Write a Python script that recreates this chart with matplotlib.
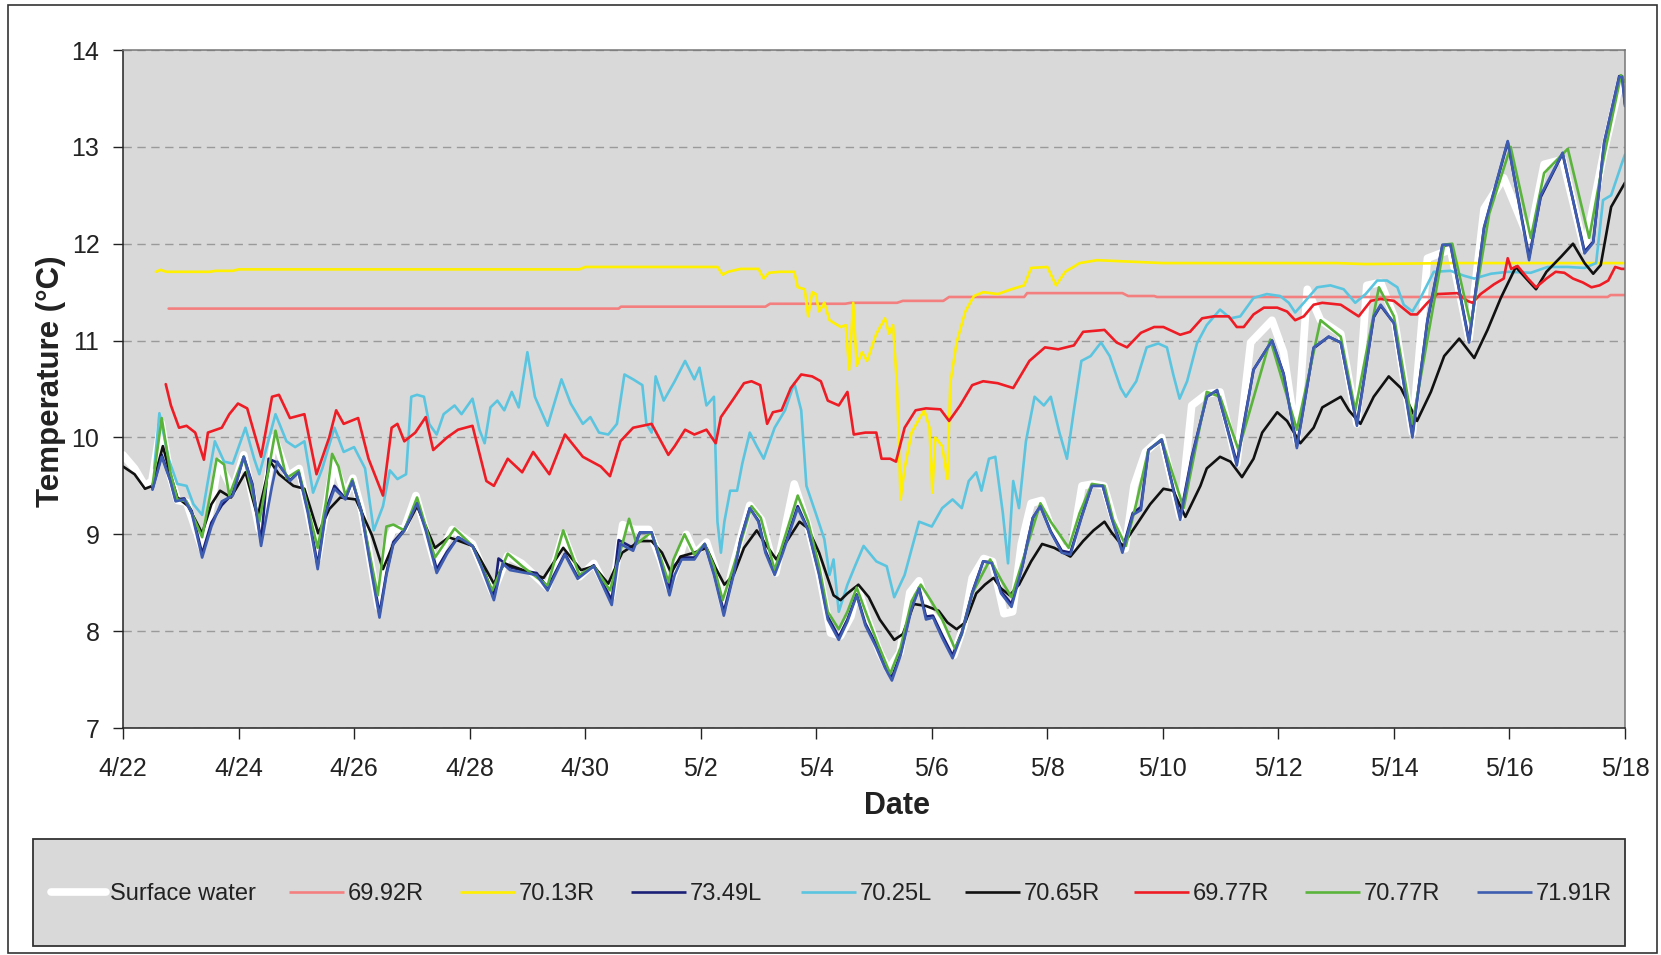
import matplotlib
matplotlib.use("Agg")
import matplotlib.pyplot as plt
from matplotlib.patches import Rectangle
from matplotlib.lines import Line2D

# =========================
# data: (day since 4/22, temperature degC)
# =========================
xtick_days = list(range(0, 27, 2))
xtick_labels = ["4/22", "4/24", "4/26", "4/28", "4/30", "5/2", "5/4", "5/6",
                "5/8", "5/10", "5/12", "5/14", "5/16", "5/18"]
ytick_vals = [7, 8, 9, 10, 11, 12, 13, 14]

series_labels = ["Surface water", "69.92R", "70.13R", "73.49L", "70.25L",
                 "70.65R", "69.77R", "70.77R", "71.91R"]
series_colors = ["#ffffff", "#f47f7f", "#ffef00", "#1b2077", "#5bc5e0",
                 "#111111", "#ee1c24", "#5ab43c", "#3e5db0"]

surface_water = [
    (0, 9.82), (0.1, 9.75), (0.2, 9.68), (0.38, 9.5), (0.5, 9.55), (0.66, 10.15), (0.82, 9.6),
    (0.94, 9.35), (1.1, 9.33), (1.37, 8.85), (1.53, 9.3), (1.65, 9.75), (1.9, 9.45), (2.09, 9.82),
    (2.36, 9.05), (2.62, 10.0), (2.85, 9.6), (3.05, 9.68), (3.37, 8.75), (3.55, 9.4), (3.65, 9.75),
    (3.85, 9.4), (3.98, 9.58), (4.13, 9.25), (4.42, 8.25), (4.56, 8.9), (4.68, 9.05), (4.87, 9.06),
    (5.07, 9.4), (5.4, 8.7), (5.7, 9.05), (6.05, 8.9), (6.4, 8.4), (6.66, 8.78), (6.9, 8.7),
    (7.35, 8.45), (7.62, 9.0), (7.9, 8.56), (8.15, 8.7), (8.45, 8.35), (8.65, 9.1), (8.85, 9.05),
    (9.1, 9.05), (9.3, 8.75), (9.45, 8.45), (9.6, 8.7), (9.75, 9.0), (9.9, 8.8), (10.1, 8.92),
    (10.25, 8.65), (10.4, 8.25), (10.57, 8.7), (10.85, 9.3), (11.05, 9.15), (11.3, 8.6),
    (11.62, 9.52), (11.85, 9.1), (12.05, 8.6), (12.25, 7.98), (12.42, 7.95), (12.6, 8.15),
    (12.72, 8.45), (12.9, 8.1), (13.1, 7.78), (13.25, 7.6), (13.45, 7.78), (13.62, 8.4),
    (13.78, 8.52), (13.95, 8.2), (14.18, 8.05), (14.38, 7.75), (14.55, 8.05), (14.7, 8.55),
    (14.9, 8.75), (15.05, 8.72), (15.25, 8.18), (15.4, 8.2), (15.55, 8.9), (15.72, 9.32),
    (15.9, 9.35), (16.08, 9.05), (16.25, 8.85), (16.42, 8.85), (16.6, 9.5), (16.8, 9.52),
    (16.98, 9.5), (17.15, 9.15), (17.35, 8.85), (17.5, 9.5), (17.7, 9.85), (17.98, 10.0),
    (18.3, 9.18), (18.5, 10.33), (18.76, 10.45), (18.99, 10.47), (19.28, 9.73), (19.52, 10.98),
    (19.89, 11.21), (20.09, 10.88), (20.32, 9.96), (20.5, 11.53), (20.73, 11.21), (21.08, 11.07),
    (21.36, 10.14), (21.53, 11.57), (21.77, 11.6), (22.0, 11.25), (22.32, 10.05), (22.58, 11.85),
    (22.98, 11.94), (23.3, 11.02), (23.56, 12.36), (23.9, 12.68), (24.34, 12.04), (24.6, 12.82),
    (24.92, 12.87), (25.3, 11.94), (25.64, 12.96), (25.93, 13.70), (26.0, 13.56),
]

s6992R = [
    (0.79, 11.33), (8.58, 11.33), (8.62, 11.35), (11.12, 11.35), (11.2, 11.38), (12.5, 11.38),
    (12.6, 11.39), (13.4, 11.39), (13.5, 11.41), (14.2, 11.41), (14.3, 11.45), (15.6, 11.45),
    (15.65, 11.49), (17.3, 11.49), (17.4, 11.46), (17.85, 11.46), (17.9, 11.45), (25.7, 11.45),
    (25.75, 11.47), (26.0, 11.47),
]

s7013R = [
    (0.57, 11.71), (0.65, 11.73), (0.75, 11.71), (1.5, 11.71), (1.6, 11.72), (1.9, 11.72),
    (2.0, 11.735), (7.9, 11.735), (8.0, 11.76), (10.29, 11.76), (10.38, 11.68), (10.47, 11.71),
    (10.69, 11.74), (11.0, 11.74), (11.09, 11.64), (11.18, 11.70), (11.37, 11.71), (11.62, 11.71),
    (11.68, 11.55), (11.80, 11.53), (11.86, 11.25), (11.93, 11.50), (11.99, 11.48), (12.05, 11.30),
    (12.14, 11.39), (12.23, 11.21), (12.42, 11.14), (12.51, 11.16), (12.57, 10.70), (12.64, 11.39),
    (12.70, 10.74), (12.79, 10.88), (12.88, 10.79), (13.04, 11.07), (13.19, 11.23), (13.26, 11.07),
    (13.33, 11.16), (13.40, 10.51), (13.46, 9.36), (13.53, 9.68), (13.65, 10.05), (13.78, 10.19),
    (13.87, 10.28), (13.96, 10.10), (14.01, 9.43), (14.06, 10.00), (14.18, 9.91), (14.27, 9.57),
    (14.32, 10.56), (14.43, 10.98), (14.58, 11.30), (14.73, 11.46), (14.89, 11.50), (15.14, 11.48),
    (15.38, 11.53), (15.60, 11.57), (15.72, 11.75), (16.00, 11.76), (16.15, 11.57), (16.31, 11.71),
    (16.56, 11.80), (16.86, 11.83), (18.0, 11.80), (21.0, 11.80), (21.5, 11.79), (23.0, 11.80),
    (26.0, 11.80),
]

s7349L = [
    (0.51, 9.47), (0.67, 9.82), (0.82, 9.56), (0.91, 9.36), (1.06, 9.37), (1.19, 9.24), (1.37, 8.80),
    (1.53, 9.12), (1.71, 9.30), (1.90, 9.42), (2.09, 9.80), (2.24, 9.52), (2.39, 8.92), (2.52, 9.78),
    (2.67, 9.74), (2.89, 9.56), (3.04, 9.64), (3.20, 9.25), (3.37, 8.68), (3.51, 9.25), (3.66, 9.50),
    (3.85, 9.37), (3.97, 9.55), (4.13, 9.24), (4.31, 8.62), (4.44, 8.18), (4.56, 8.60), (4.68, 8.92),
    (4.87, 9.05), (5.09, 9.32), (5.24, 9.06), (5.43, 8.64), (5.61, 8.82), (5.80, 8.97), (6.05, 8.88),
    (6.20, 8.70), (6.42, 8.36), (6.50, 8.75), (6.70, 8.66), (6.97, 8.62), (7.16, 8.60), (7.35, 8.45),
    (7.65, 8.80), (7.87, 8.56), (8.15, 8.68), (8.46, 8.32), (8.58, 8.94), (8.83, 8.86), (8.95, 9.02),
    (9.15, 9.02), (9.30, 8.74), (9.46, 8.42), (9.52, 8.66), (9.67, 8.76), (9.89, 8.76), (10.07, 8.90),
    (10.23, 8.60), (10.40, 8.20), (10.57, 8.60), (10.69, 8.95), (10.85, 9.27), (11.00, 9.14),
    (11.12, 8.83), (11.28, 8.61), (11.40, 8.79), (11.68, 9.29), (11.86, 9.05), (12.05, 8.60),
    (12.20, 8.15), (12.39, 7.94), (12.54, 8.12), (12.70, 8.38), (12.85, 8.08), (13.04, 7.86),
    (13.19, 7.65), (13.31, 7.52), (13.46, 7.77), (13.65, 8.25), (13.78, 8.45), (13.90, 8.15),
    (14.02, 8.16), (14.18, 7.96), (14.36, 7.75), (14.52, 7.99), (14.70, 8.40), (14.89, 8.72),
    (15.04, 8.71), (15.20, 8.41), (15.38, 8.28), (15.57, 8.68), (15.75, 9.17), (15.88, 9.29),
    (16.06, 9.03), (16.25, 8.83), (16.40, 8.81), (16.59, 9.18), (16.77, 9.50), (16.96, 9.50),
    (17.11, 9.18), (17.30, 8.84), (17.48, 9.22), (17.62, 9.28), (17.75, 9.87), (17.98, 9.97),
    (18.30, 9.18), (18.50, 9.80), (18.76, 10.42), (18.94, 10.48), (19.17, 9.98), (19.28, 9.74),
    (19.57, 10.70), (19.89, 11.00), (20.09, 10.66), (20.32, 9.91), (20.61, 10.92), (20.87, 11.04),
    (21.08, 10.98), (21.36, 10.14), (21.65, 11.24), (21.77, 11.36), (22.00, 11.18), (22.32, 10.03),
    (22.58, 11.20), (22.84, 11.98), (22.98, 11.99), (23.30, 11.00), (23.56, 12.16), (23.97, 13.05),
    (24.34, 11.86), (24.54, 12.48), (24.92, 12.93), (25.30, 11.92), (25.45, 12.02), (25.64, 13.04),
    (25.90, 13.73), (25.95, 13.73), (26.0, 13.44),
]

s7025L = [
    (0.54, 9.68), (0.63, 10.25), (0.79, 9.78), (0.94, 9.52), (1.10, 9.50), (1.22, 9.31), (1.37, 9.20),
    (1.47, 9.55), (1.59, 9.96), (1.75, 9.75), (1.90, 9.73), (2.12, 10.10), (2.27, 9.78), (2.36, 9.62),
    (2.64, 10.24), (2.83, 9.96), (2.98, 9.90), (3.14, 9.96), (3.29, 9.43), (3.45, 9.68), (3.66, 10.10),
    (3.82, 9.85), (4.00, 9.90), (4.19, 9.68), (4.34, 9.04), (4.50, 9.29), (4.62, 9.66), (4.75, 9.57),
    (4.90, 9.62), (4.99, 10.42), (5.09, 10.44), (5.21, 10.42), (5.30, 10.14), (5.43, 10.03),
    (5.55, 10.24), (5.74, 10.33), (5.86, 10.24), (6.05, 10.40), (6.17, 10.08), (6.26, 9.94),
    (6.36, 10.31), (6.48, 10.38), (6.60, 10.28), (6.73, 10.47), (6.85, 10.31), (7.00, 10.88),
    (7.13, 10.42), (7.35, 10.12), (7.59, 10.60), (7.75, 10.35), (7.96, 10.14), (8.09, 10.21),
    (8.24, 10.05), (8.40, 10.03), (8.55, 10.14), (8.68, 10.65), (8.83, 10.60), (8.99, 10.54),
    (9.06, 10.14), (9.15, 10.05), (9.22, 10.63), (9.36, 10.38), (9.55, 10.58), (9.73, 10.79),
    (9.89, 10.60), (9.98, 10.72), (10.10, 10.33), (10.23, 10.42), (10.29, 9.13), (10.35, 8.81),
    (10.41, 9.13), (10.51, 9.45), (10.63, 9.45), (10.72, 9.73), (10.85, 10.05), (10.97, 9.91),
    (11.09, 9.78), (11.28, 10.10), (11.46, 10.28), (11.62, 10.56), (11.74, 10.28), (11.83, 9.50),
    (11.99, 9.22), (12.14, 8.95), (12.23, 8.58), (12.30, 8.74), (12.39, 8.20), (12.54, 8.48),
    (12.67, 8.67), (12.82, 8.88), (13.04, 8.72), (13.22, 8.67), (13.35, 8.35), (13.53, 8.58),
    (13.78, 9.13), (14.00, 9.08), (14.18, 9.27), (14.36, 9.36), (14.52, 9.27), (14.64, 9.55),
    (14.77, 9.64), (14.86, 9.45), (14.99, 9.78), (15.10, 9.80), (15.23, 9.22), (15.32, 8.70),
    (15.41, 9.55), (15.51, 9.27), (15.63, 9.96), (15.78, 10.42), (15.94, 10.33), (16.06, 10.42),
    (16.21, 10.05), (16.34, 9.78), (16.46, 10.28), (16.59, 10.79), (16.75, 10.84), (16.93, 10.98),
    (17.08, 10.84), (17.27, 10.51), (17.36, 10.42), (17.54, 10.58), (17.72, 10.93), (17.92, 10.97),
    (18.07, 10.93), (18.18, 10.65), (18.29, 10.40), (18.42, 10.58), (18.59, 10.97), (18.76, 11.16),
    (18.99, 11.32), (19.17, 11.23), (19.34, 11.25), (19.57, 11.44), (19.80, 11.48), (20.03, 11.46),
    (20.18, 11.39), (20.29, 11.29), (20.44, 11.39), (20.67, 11.55), (20.90, 11.57), (21.13, 11.53),
    (21.33, 11.39), (21.51, 11.48), (21.71, 11.62), (21.88, 11.62), (22.06, 11.55), (22.17, 11.37),
    (22.32, 11.30), (22.46, 11.44), (22.69, 11.71), (22.98, 11.72), (23.21, 11.67), (23.39, 11.64),
    (23.68, 11.69), (23.97, 11.71), (24.37, 11.70), (24.66, 11.76), (25.01, 11.76), (25.30, 11.75),
    (25.50, 11.80), (25.62, 12.45), (25.76, 12.50), (25.94, 12.82), (26.0, 12.92),
]

s7065R = [
    (0, 9.70), (0.20, 9.62), (0.38, 9.47), (0.51, 9.50), (0.69, 9.91), (0.82, 9.62), (0.94, 9.38),
    (1.13, 9.29), (1.37, 9.01), (1.53, 9.31), (1.68, 9.45), (1.87, 9.38), (2.12, 9.64), (2.33, 9.18),
    (2.55, 9.75), (2.70, 9.62), (2.95, 9.50), (3.14, 9.47), (3.38, 9.01), (3.57, 9.26), (3.76, 9.38),
    (4.03, 9.36), (4.31, 8.99), (4.50, 8.64), (4.68, 8.90), (4.87, 9.04), (5.09, 9.29), (5.40, 8.86),
    (5.64, 8.97), (6.05, 8.88), (6.17, 8.76), (6.42, 8.49), (6.60, 8.70), (6.88, 8.64), (7.28, 8.55),
    (7.62, 8.86), (7.93, 8.63), (8.15, 8.67), (8.40, 8.49), (8.64, 8.81), (8.95, 8.93), (9.15, 8.93),
    (9.33, 8.81), (9.49, 8.60), (9.65, 8.77), (9.89, 8.81), (10.10, 8.86), (10.26, 8.65),
    (10.41, 8.48), (10.57, 8.58), (10.75, 8.86), (10.97, 9.04), (11.12, 8.90), (11.31, 8.74),
    (11.46, 8.90), (11.71, 9.13), (11.86, 9.06), (12.05, 8.81), (12.30, 8.37), (12.42, 8.32),
    (12.54, 8.39), (12.73, 8.48), (12.91, 8.35), (13.10, 8.12), (13.35, 7.91), (13.50, 7.97),
    (13.69, 8.28), (13.90, 8.26), (14.12, 8.21), (14.27, 8.09), (14.43, 8.02), (14.58, 8.09),
    (14.77, 8.39), (14.92, 8.48), (15.07, 8.55), (15.20, 8.44), (15.35, 8.37), (15.51, 8.48),
    (15.72, 8.72), (15.91, 8.90), (16.12, 8.86), (16.40, 8.77), (16.62, 8.93), (16.80, 9.04),
    (16.99, 9.13), (17.11, 9.02), (17.30, 8.88), (17.50, 9.06), (17.78, 9.31), (18.01, 9.47),
    (18.18, 9.45), (18.39, 9.18), (18.65, 9.50), (18.76, 9.68), (18.99, 9.80), (19.17, 9.75),
    (19.37, 9.59), (19.57, 9.78), (19.72, 10.05), (19.98, 10.26), (20.15, 10.17), (20.38, 9.94),
    (20.61, 10.10), (20.76, 10.31), (21.08, 10.42), (21.22, 10.28), (21.42, 10.14), (21.65, 10.42),
    (21.91, 10.63), (22.12, 10.51), (22.40, 10.17), (22.64, 10.47), (22.87, 10.84), (23.13, 11.02),
    (23.39, 10.82), (23.62, 11.11), (23.85, 11.44), (24.11, 11.76), (24.29, 11.64), (24.46, 11.53),
    (24.64, 11.71), (24.90, 11.87), (25.10, 12.00), (25.30, 11.80), (25.45, 11.69), (25.58, 11.78),
    (25.76, 12.38), (26.0, 12.63),
]

s6977R = [
    (0.74, 10.55), (0.83, 10.33), (0.97, 10.10), (1.10, 10.12), (1.25, 10.05), (1.40, 9.77),
    (1.47, 10.05), (1.71, 10.10), (1.84, 10.24), (1.99, 10.35), (2.15, 10.30), (2.39, 9.80),
    (2.58, 10.42), (2.70, 10.44), (2.89, 10.20), (3.14, 10.24), (3.35, 9.62), (3.57, 10.00),
    (3.69, 10.28), (3.82, 10.14), (4.07, 10.20), (4.25, 9.78), (4.50, 9.40), (4.65, 10.10),
    (4.75, 10.14), (4.87, 9.96), (5.06, 10.05), (5.24, 10.21), (5.37, 9.87), (5.61, 10.00),
    (5.80, 10.08), (6.05, 10.12), (6.29, 9.55), (6.42, 9.50), (6.66, 9.78), (6.91, 9.64),
    (7.10, 9.85), (7.38, 9.62), (7.65, 10.03), (7.96, 9.80), (8.27, 9.70), (8.43, 9.60),
    (8.61, 9.96), (8.83, 10.10), (9.15, 10.14), (9.33, 9.94), (9.44, 9.82), (9.55, 9.91),
    (9.73, 10.08), (9.89, 10.03), (10.10, 10.08), (10.26, 9.94), (10.35, 10.21), (10.57, 10.40),
    (10.75, 10.56), (10.88, 10.58), (11.03, 10.54), (11.15, 10.14), (11.25, 10.26), (11.40, 10.28),
    (11.56, 10.51), (11.74, 10.65), (11.93, 10.63), (12.08, 10.58), (12.20, 10.38), (12.39, 10.33),
    (12.54, 10.47), (12.65, 10.03), (12.85, 10.05), (13.04, 10.05), (13.13, 9.78), (13.28, 9.78),
    (13.38, 9.75), (13.53, 10.10), (13.72, 10.28), (13.90, 10.30), (14.15, 10.29), (14.30, 10.17),
    (14.49, 10.33), (14.70, 10.54), (14.89, 10.58), (15.14, 10.56), (15.41, 10.51), (15.69, 10.79),
    (15.96, 10.93), (16.19, 10.91), (16.46, 10.95), (16.62, 11.09), (16.99, 11.11), (17.20, 10.98),
    (17.38, 10.93), (17.62, 11.08), (17.85, 11.14), (18.01, 11.14), (18.30, 11.06), (18.47, 11.09),
    (18.68, 11.23), (18.88, 11.25), (19.14, 11.25), (19.28, 11.14), (19.40, 11.14), (19.57, 11.27),
    (19.75, 11.34), (19.98, 11.34), (20.15, 11.30), (20.29, 11.21), (20.44, 11.25), (20.61, 11.37),
    (20.76, 11.39), (21.08, 11.37), (21.39, 11.25), (21.60, 11.41), (21.77, 11.43), (22.00, 11.41),
    (22.29, 11.27), (22.40, 11.27), (22.58, 11.39), (22.75, 11.48), (23.10, 11.49), (23.27, 11.41),
    (23.36, 11.39), (23.50, 11.48), (23.73, 11.58), (23.90, 11.64), (23.97, 11.85), (24.03, 11.74),
    (24.14, 11.77), (24.32, 11.64), (24.46, 11.55), (24.64, 11.64), (24.80, 11.71), (24.95, 11.70),
    (25.10, 11.64), (25.27, 11.60), (25.42, 11.55), (25.56, 11.57), (25.71, 11.62), (25.83, 11.76),
    (25.94, 11.74), (26.0, 11.74),
]

s7077R = [
    (0.51, 9.50), (0.67, 10.20), (0.82, 9.64), (0.94, 9.36), (1.10, 9.34), (1.37, 8.97), (1.53, 9.47),
    (1.62, 9.78), (1.75, 9.72), (1.84, 9.40), (2.09, 9.80), (2.36, 9.13), (2.64, 10.07), (2.83, 9.58),
    (3.04, 9.66), (3.37, 8.86), (3.51, 9.32), (3.62, 9.83), (3.73, 9.70), (3.85, 9.40), (3.97, 9.57),
    (4.13, 9.22), (4.41, 8.37), (4.56, 9.08), (4.68, 9.10), (4.87, 9.04), (5.09, 9.38), (5.40, 8.76),
    (5.74, 9.06), (6.05, 8.88), (6.39, 8.42), (6.66, 8.80), (6.91, 8.67), (7.35, 8.47), (7.62, 9.04),
    (7.90, 8.58), (8.15, 8.67), (8.43, 8.42), (8.76, 9.16), (8.89, 8.90), (9.14, 9.02), (9.30, 8.77),
    (9.44, 8.51), (9.53, 8.74), (9.72, 9.00), (9.89, 8.79), (10.07, 8.90), (10.23, 8.67),
    (10.38, 8.32), (10.57, 8.67), (10.88, 9.29), (11.04, 9.17), (11.28, 8.63), (11.68, 9.40),
    (11.86, 9.13), (12.05, 8.67), (12.20, 8.20), (12.39, 8.02), (12.54, 8.20), (12.70, 8.45),
    (12.88, 8.16), (13.06, 7.88), (13.28, 7.56), (13.46, 7.83), (13.65, 8.31), (13.81, 8.48),
    (13.99, 8.31), (14.18, 8.12), (14.40, 7.82), (14.52, 7.97), (14.70, 8.39), (15.01, 8.74),
    (15.20, 8.53), (15.38, 8.35), (15.57, 8.72), (15.88, 9.32), (16.06, 9.13), (16.37, 8.86),
    (16.56, 9.22), (16.77, 9.52), (16.99, 9.50), (17.14, 9.15), (17.36, 8.88), (17.54, 9.32),
    (17.75, 9.87), (17.98, 9.98), (18.36, 9.27), (18.76, 10.47), (18.99, 10.42), (19.31, 9.87),
    (19.86, 11.01), (20.32, 10.08), (20.73, 11.21), (21.08, 11.04), (21.33, 10.28), (21.74, 11.55),
    (22.00, 11.25), (22.32, 10.14), (22.87, 11.99), (23.01, 12.00), (23.33, 11.16), (23.65, 12.31),
    (24.02, 13.00), (24.37, 12.06), (24.60, 12.73), (25.01, 12.98), (25.38, 12.06), (25.64, 12.91),
    (25.93, 13.74), (26.0, 13.67),
]

s7191R = [
    (0.51, 9.46), (0.67, 9.80), (0.82, 9.55), (0.91, 9.34), (1.06, 9.36), (1.19, 9.22), (1.37, 8.76),
    (1.53, 9.08), (1.71, 9.34), (1.90, 9.40), (2.09, 9.80), (2.24, 9.50), (2.39, 8.88), (2.58, 9.50),
    (2.67, 9.75), (2.89, 9.55), (3.04, 9.64), (3.20, 9.22), (3.37, 8.64), (3.51, 9.22), (3.66, 9.47),
    (3.85, 9.36), (3.97, 9.55), (4.13, 9.22), (4.31, 8.58), (4.44, 8.14), (4.56, 8.58), (4.68, 8.90),
    (4.87, 9.04), (5.09, 9.32), (5.24, 9.04), (5.43, 8.60), (5.61, 8.80), (5.80, 8.97), (6.05, 8.88),
    (6.20, 8.67), (6.42, 8.32), (6.57, 8.70), (6.70, 8.63), (6.97, 8.60), (7.16, 8.58), (7.35, 8.42),
    (7.65, 8.79), (7.87, 8.54), (8.15, 8.67), (8.46, 8.27), (8.61, 8.90), (8.83, 8.83), (8.95, 9.02),
    (9.15, 9.02), (9.30, 8.72), (9.46, 8.37), (9.55, 8.58), (9.67, 8.74), (9.89, 8.74), (10.07, 8.90),
    (10.23, 8.58), (10.40, 8.16), (10.57, 8.58), (10.69, 8.94), (10.85, 9.27), (11.00, 9.13),
    (11.12, 8.81), (11.28, 8.58), (11.40, 8.77), (11.68, 9.27), (11.86, 9.04), (12.05, 8.58),
    (12.20, 8.12), (12.39, 7.91), (12.54, 8.10), (12.70, 8.37), (12.85, 8.06), (13.04, 7.83),
    (13.19, 7.62), (13.31, 7.49), (13.46, 7.75), (13.65, 8.23), (13.78, 8.44), (13.90, 8.12),
    (14.02, 8.14), (14.18, 7.93), (14.36, 7.72), (14.52, 7.97), (14.70, 8.39), (14.89, 8.72),
    (15.04, 8.70), (15.20, 8.39), (15.38, 8.25), (15.57, 8.67), (15.75, 9.17), (15.88, 9.29),
    (16.06, 9.02), (16.25, 8.81), (16.40, 8.79), (16.59, 9.17), (16.77, 9.50), (16.96, 9.50),
    (17.11, 9.17), (17.30, 8.81), (17.48, 9.20), (17.62, 9.25), (17.75, 9.87), (17.98, 9.98),
    (18.30, 9.15), (18.50, 9.78), (18.76, 10.42), (18.94, 10.49), (19.17, 9.96), (19.28, 9.71),
    (19.57, 10.70), (19.89, 11.00), (20.09, 10.65), (20.32, 9.89), (20.61, 10.93), (20.87, 11.04),
    (21.08, 10.98), (21.36, 10.12), (21.65, 11.25), (21.77, 11.37), (22.00, 11.18), (22.32, 10.00),
    (22.58, 11.21), (22.84, 11.99), (22.98, 11.99), (23.30, 10.98), (23.56, 12.17), (23.97, 13.06),
    (24.34, 11.83), (24.54, 12.50), (24.92, 12.94), (25.30, 11.90), (25.45, 12.01), (25.64, 13.05),
    (25.90, 13.72), (25.95, 13.72), (26.0, 13.42),
]

all_series = [surface_water, s6992R, s7013R, s7349L, s7025L, s7065R, s6977R, s7077R, s7191R]

# =========================
# figure
# =========================
W, H = 1661, 955
fig = plt.figure(figsize=(W / 100, H / 100), dpi=100)
fig.patch.set_facecolor("white")
font = ["Liberation Sans", "DejaVu Sans"]
txt_col = "#222222"

# outer border
fig.add_artist(Rectangle((8 / W, 2 / H), (1657 - 8) / W, (950 - 2) / H,
                         transform=fig.transFigure, fill=False,
                         edgecolor="#333333", linewidth=1.2))

ax = fig.add_axes([123 / W, 1 - 728 / H, (1625 - 123) / W, (728 - 50) / H])
ax.set_facecolor("#d9d9d9")

widths = []
for data, lab, col in zip(all_series, series_labels, series_colors):
    xs = [p[0] for p in data]
    ys = [p[1] for p in data]
    lw = 5.5 if lab == "Surface water" else 1.9
    widths.append(lw)
    ax.plot(xs, ys, color=col, lw=lw, solid_joinstyle="round", solid_capstyle="round")

ax.set_xlim(0, 26)
ax.set_ylim(7, 14)
ax.set_xticks(xtick_days)
ax.set_xticklabels(xtick_labels, family=font, fontsize=18)
ax.set_yticks(ytick_vals)
ax.set_yticklabels([str(v) for v in ytick_vals], family=font, fontsize=18)

ax.yaxis.grid(True, linestyle=(0, (6, 4)), color="#9a9a9a", linewidth=1)
ax.set_axisbelow(True)

ax.tick_params(axis="x", direction="out", length=8, width=1, pad=13, colors=txt_col)
ax.tick_params(axis="y", direction="out", length=7, width=1, pad=10, colors=txt_col)
for side in ["left", "bottom"]:
    ax.spines[side].set_color(txt_col)
    ax.spines[side].set_linewidth(1.1)
for side in ["right", "top"]:
    ax.spines[side].set_color("#777777")
    ax.spines[side].set_linewidth(1.1)

fig.text(51 / W, 1 - 381 / H, "Temperature (°C)", rotation=90, ha="center", va="center",
         family=font, fontweight="bold", fontsize=22.5, color=txt_col)
fig.text(897 / W, 1 - 806 / H, "Date", ha="center", va="center",
         family=font, fontweight="bold", fontsize=22, color=txt_col)

# legend box with one row of entries
bx0, by0, bw, bh = 33 / W, 1 - 946 / H, (1625 - 33) / W, (946 - 839) / H
fig.add_artist(Rectangle((bx0, by0), bw, bh, transform=fig.transFigure,
                         facecolor="#d9d9d9", edgecolor="#333333", linewidth=1.3))
entry_x = [51, 289, 460, 631, 801, 965, 1134, 1305, 1477]  # pixel start of each handle
handle_len = 55
line_y = 1 - 892 / H
text_y = 1 - 900 / H
for x0, lab, col, lw in zip(entry_x, series_labels, series_colors, widths):
    fig.add_artist(Line2D([x0 / W, (x0 + handle_len) / W], [line_y, line_y],
                          transform=fig.transFigure, color=col, lw=lw,
                          solid_capstyle="round" if lw > 3 else "butt"))
    fig.text((x0 + handle_len + 4) / W, text_y, lab, ha="left", va="baseline",
             family=font, fontsize=17, color=txt_col)

fig.savefig("out.png", dpi=100)
